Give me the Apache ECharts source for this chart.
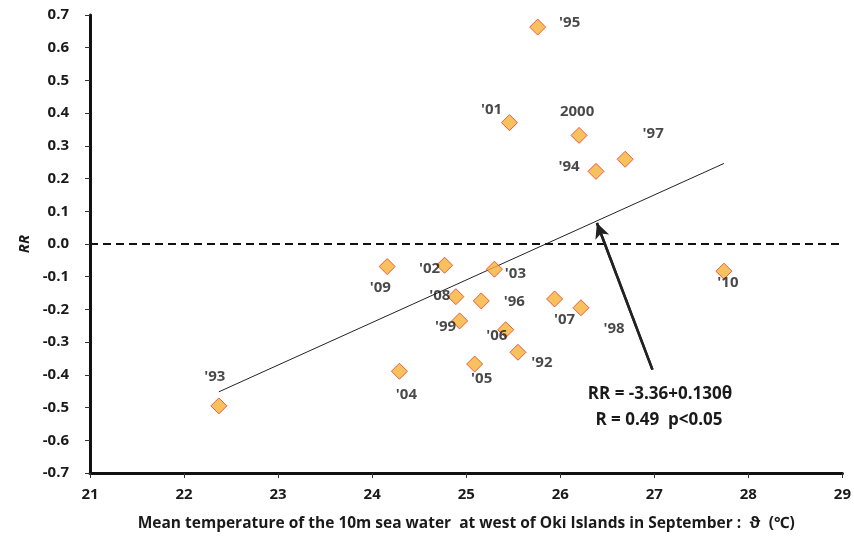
<!DOCTYPE html>
<html><head><meta charset="utf-8">
<script src="https://cdn.jsdelivr.net/npm/echarts@6/dist/echarts.min.js"></script>
<style>html,body{margin:0;padding:0;background:#fff}#c{width:854px;height:540px}</style>
</head><body><div id="c"></div>
<script>
const years = ["'95","'01","2000","'97","'94","'09","'02","'03","'08","'96","'07","'99","'06","'92","'05","'04","'93","'10","'98"];
const temps = [25.76,25.46,26.20,26.69,26.38,24.16,24.77,25.30,24.89,25.16,25.94,24.93,25.42,25.55,25.09,24.29,22.37,27.74,26.22];
const rr    = [0.663,0.371,0.332,0.259,0.222,-0.069,-0.065,-0.077,-0.161,-0.174,-0.168,-0.235,-0.262,-0.331,-0.367,-0.389,-0.495,-0.083,-0.195];
const labelOffsets = [[32,-4],[-18,-13],[-2,-24],[28,-26],[-27,-5],[-7,21],[-15,3],[21,5],[-16,-1],[33,1],[10,21],[-14,6],[-9,6],[24,10],[7,15],[7,23],[-4,-29],[4,12],[33,21]];
const fitA = -3.36, fitB = 0.130;
const fitRange = [22.37, 27.74];
const arrowFrom = [26.98, -0.384];
const arrowTo = [26.39, 0.064];
const eqLines = ['RR = -3.36+0.130\u03B8', 'R = 0.49  p<0.05'];

const font = '"Open Sans", "Noto Sans", sans-serif';
const txt = '#1a1a1a';
const chart = echarts.init(document.getElementById('c'));
const pts = temps.map((t,i)=>({
  value:[t, rr[i]],
  label:{show:true, formatter:years[i], position:'inside', offset:labelOffsets[i],
         fontWeight:'bold', fontSize:15, color:txt, fontFamily:font,
         textBorderWidth:0, textBorderColor:'transparent'}
}));
chart.setOption({
  animation:false,
  grid:{left:90,right:6,top:15,bottom:67},
  xAxis:{type:'value',min:21,max:29,interval:1,
    name:'Mean temperature of the 10m sea water  at west of Oki Islands in September :  \u03D1  (\u2103)',
    nameLocation:'middle',nameGap:43,
    nameTextStyle:{fontWeight:'bold',fontSize:15.5,color:txt,fontFamily:font},
    axisLine:{onZero:false,lineStyle:{color:'#111',width:3}},
    axisTick:{show:true,length:5,lineStyle:{color:'#333',width:1}},
    axisLabel:{fontWeight:'bold',fontSize:15,color:txt,fontFamily:font,margin:14},
    splitLine:{show:false}},
  yAxis:{type:'value',min:-0.7,max:0.7,interval:0.1,
    name:'RR',nameLocation:'middle',nameGap:48,
    nameTextStyle:{fontWeight:'bold',fontStyle:'italic',fontSize:15,color:txt,fontFamily:font},
    axisLine:{show:true,onZero:false,lineStyle:{color:'#111',width:3}},
    axisTick:{show:true,length:5,lineStyle:{color:'#333',width:1}},
    axisLabel:{fontWeight:'bold',fontSize:15,color:txt,fontFamily:font,margin:21,
      formatter:v=>(Math.abs(v)<1e-9?0:v).toFixed(1)},
    splitLine:{show:false}},
  series:[
    {type:'line',data:[[21,0],[29,0]],symbol:'none',silent:true,
     lineStyle:{color:'#111',width:2,type:[8,5]}},
    {type:'line',data:fitRange.map(x=>[x,fitA+fitB*x]),symbol:'none',silent:true,
     lineStyle:{color:'#222',width:1}},
    {type:'line',data:[arrowFrom,arrowTo],symbol:'none',silent:true,
     lineStyle:{color:'#222',width:2.5},
     markLine:{silent:true,symbol:['none','arrow'],symbolSize:[11,15],label:{show:false},
       lineStyle:{color:'#222',width:2.5,type:'solid'},
       data:[[{coord:arrowFrom},{coord:arrowTo}]]}},
    {type:'scatter',data:pts,symbol:'diamond',symbolSize:16,z:5,
     itemStyle:{color:'#F5B335',borderColor:'#E8392B',borderWidth:1}}
  ],
  graphic:[
    {type:'text',x:660,y:394,style:{text:eqLines[0],fontWeight:'bold',fontSize:17,fill:txt,fontFamily:font,textAlign:'center',textVerticalAlign:'middle'}},
    {type:'text',x:659,y:420,style:{text:eqLines[1],fontWeight:'bold',fontSize:17,fill:txt,fontFamily:font,textAlign:'center',textVerticalAlign:'middle'}}
  ]
});
</script></body></html>
